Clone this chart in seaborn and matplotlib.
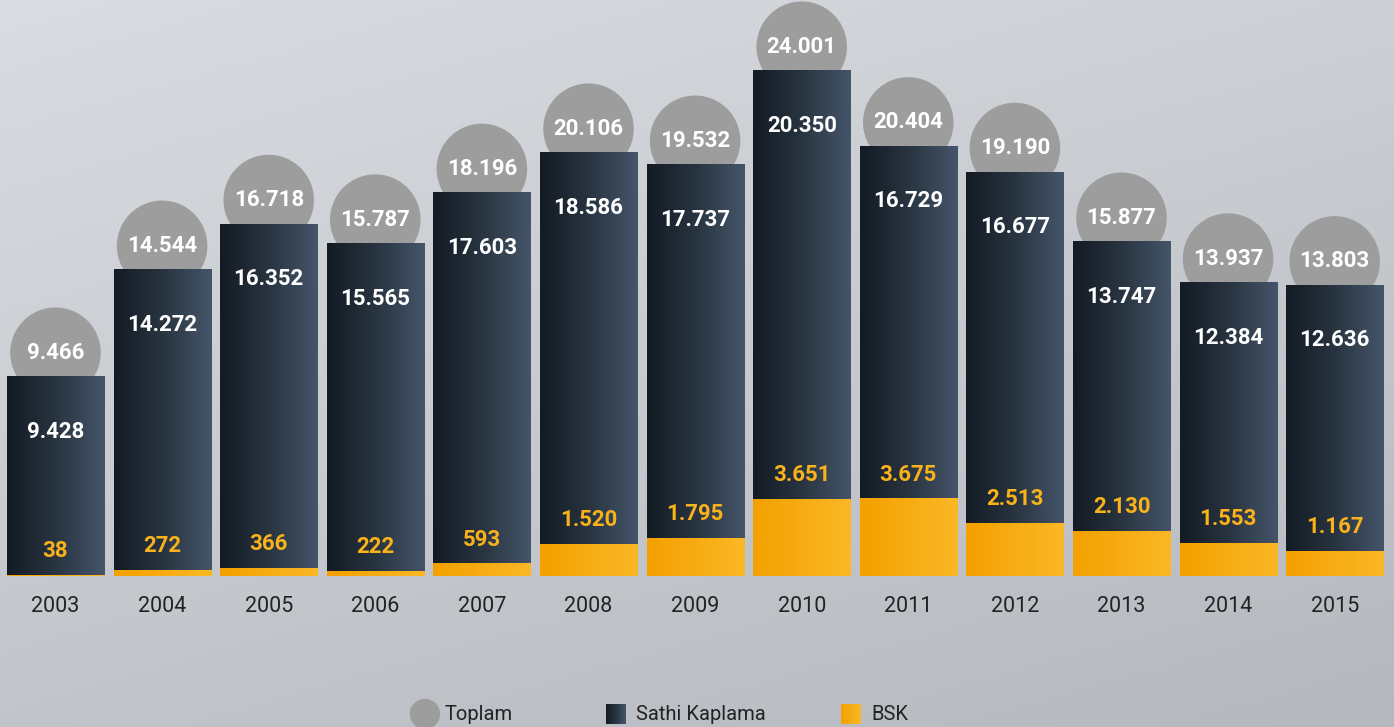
import numpy as np
import seaborn as sns
from matplotlib import pyplot as plt
from matplotlib.colors import LinearSegmentedColormap

years = ['2003', '2004', '2005', '2006', '2007', '2008', '2009',
         '2010', '2011', '2012', '2013', '2014', '2015']
toplam = [9466, 14544, 16718, 15787, 18196, 20106, 19532,
          24001, 20404, 19190, 15877, 13937, 13803]
sathi_kaplama = [9428, 14272, 16352, 15565, 17603, 18586, 17737,
                 20350, 16729, 16677, 13747, 12384, 12636]
bsk = [38, 272, 366, 222, 593, 1520, 1795,
       3651, 3675, 2513, 2130, 1553, 1167]

W, H = 1394, 727
Y_PER_PX = 47.5          # data units per pixel
BASE_PX = 576            # baseline, pixels from top
X0_PX, STEP_PX = 55.5, 106.6


def px2x(px):
    return (px - X0_PX) / STEP_PX


def px2y(py):
    return (BASE_PX - py) * Y_PER_PX


def fmt(v):
    return f"{v:,}".replace(',', '.')


sns.set_theme(style='white')
plt.rcParams['font.family'] = ['Roboto', 'DejaVu Sans']

fig = plt.figure(figsize=(W / 100, H / 100), dpi=100)
ax = fig.add_axes([0, 0, 1, 1])
ax.set_axis_off()

# background gradient
bg = LinearSegmentedColormap.from_list('bg', ['#d9dde1', '#b5b9bf'])
gx, gy = np.meshgrid(np.linspace(0, 1, 200), np.linspace(0, 1, 200))
ax.imshow(0.35 * gx + 0.65 * gy, extent=[0, 1, 0, 1], transform=ax.transAxes,
          cmap=bg, aspect='auto', zorder=0, vmin=0, vmax=1)

dark = LinearSegmentedColormap.from_list('dark', ['#131b24', '#283440', '#45556a'])
gold = LinearSegmentedColormap.from_list('gold', ['#f4a000', '#fbb826'])
grad = np.linspace(0, 1, 256).reshape(1, -1)

xs = np.arange(len(years))

# Toplam circles behind the bars
ax.scatter(xs, np.array(toplam) + 24 * Y_PER_PX, s=4250, color='#9d9d9d',
           edgecolors='none', zorder=2)

sns.barplot(x=years, y=toplam, color='#2c3846', width=0.91, saturation=1,
            linewidth=0, edgecolor='none', ax=ax, zorder=3)
n_dark = len(ax.patches)
sns.barplot(x=years, y=bsk, color='#f8ae14', width=0.91, saturation=1,
            linewidth=0, edgecolor='none', ax=ax, zorder=4)

for i, p in enumerate(ax.patches):
    cmap = dark if i < n_dark else gold
    x0, y0, w, h = p.get_x(), p.get_y(), p.get_width(), p.get_height()
    ax.imshow(grad, extent=[x0, x0 + w, y0, y0 + h], aspect='auto',
              cmap=cmap, zorder=p.get_zorder() + 0.5)

for i in xs:
    ax.text(i, toplam[i] + 24 * Y_PER_PX, fmt(toplam[i]), ha='center', va='center',
            color='white', fontsize=16, fontweight='bold', zorder=6)
    ax.text(i, toplam[i] - 55 * Y_PER_PX, fmt(sathi_kaplama[i]), ha='center',
            va='center', color='white', fontsize=16, fontweight='bold', zorder=6)
    ax.text(i, bsk[i] + 24 * Y_PER_PX, fmt(bsk[i]), ha='center', va='center',
            color='#f9b21a', fontsize=16, fontweight='bold', zorder=6)
    ax.text(i, px2y(607), years[i], ha='center', va='center',
            color='#222222', fontsize=15.5, zorder=6)

# legend
ly = px2y(714)
ax.scatter([px2x(425)], [ly], s=480, color='#9d9d9d', edgecolors='none', zorder=6)
ax.text(px2x(445), ly, 'Toplam', ha='left', va='center', fontsize=14.5,
        color='#222222', zorder=6)
for cx, cmap, label in [(616, dark, 'Sathi Kaplama'), (851, gold, 'BSK')]:
    ax.imshow(grad, extent=[px2x(cx - 10), px2x(cx + 10), px2y(724), px2y(704)],
              aspect='auto', cmap=cmap, zorder=6)
    ax.text(px2x(cx + 20), ly, label, ha='left', va='center', fontsize=14.5,
            color='#222222', zorder=6)

ax.set_xlim(px2x(0), px2x(W))
ax.set_ylim(px2y(H), px2y(0))

fig.savefig('out.png', dpi=100)
